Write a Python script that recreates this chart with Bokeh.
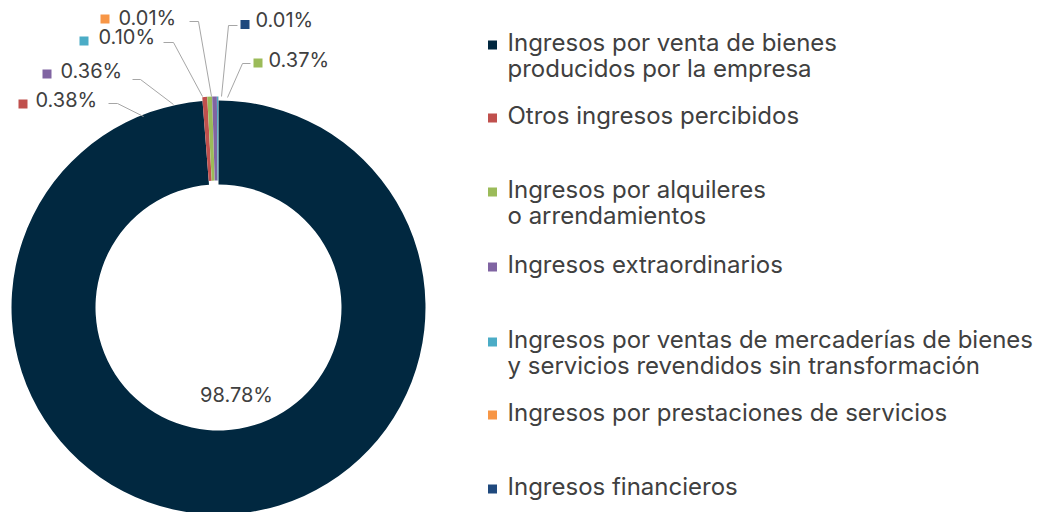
import numpy as np
from bokeh.plotting import figure
from bokeh.models import Range1d, ColumnDataSource
from bokeh.core.properties import value
from bokeh.embed import file_html
from bokeh.resources import INLINE

# ---------------- data ----------------
categories = [
    "Ingresos por venta de bienes\nproducidos por la empresa",
    "Otros ingresos percibidos",
    "Ingresos por alquileres\no arrendamientos",
    "Ingresos extraordinarios",
    "Ingresos por ventas de mercaderías de bienes\ny servicios revendidos sin transformación",
    "Ingresos por prestaciones de servicios",
    "Ingresos financieros",
]
shares = [98.78, 0.38, 0.37, 0.36, 0.10, 0.01, 0.01]
colors = ["#012840", "#C0504D", "#9BBB59", "#8064A2", "#4BACC6", "#F79646", "#1F497D"]
pct_labels = [f"{v:.2f}%" for v in shares]

# ---------------- layout (picture pixel coordinates) ----------------
W, H = 1044, 512
FONT = "Inter"
TXT = "#404040"
CX, CY = 218, 307
R_OUT, R_IN = 207, 123
EXPLODE = 4
TXT_DY = -7.5  # baseline correction for text rendering

# percentage labels: marker centre, text x, text baseline
lbl_marker = [None, (22.5, 103.5), (257.5, 62.5), (46.5, 73.5), (83.5, 40.5), (104.5, 18.5), (244.5, 24)]
lbl_text = [(236, 402), (35, 107), (268, 67), (60, 78), (98, 44), (118, 25), (255, 27)]
leaders = [None,
           [(108, 103), (117, 103), (143, 116)],
           [(250, 63), (242, 63), (227, 97)],
           [(132, 79), (140, 79), (173, 104)],
           [(163, 42), (173, 42), (202, 96)],
           [(189, 21), (198, 21), (211, 96)],
           [(237, 25), (228, 25), (221, 96)]]

leg_marker_x = 492
leg_text_x = 507
leg_baselines = [49, 122, 196, 271, 346, 419, 493]
leg_line_gap = 26.5


def Y(yw):
    return H - yw


p = figure(width=W, height=H, output_backend="svg", toolbar_location=None,
           x_range=Range1d(0, W), y_range=Range1d(0, H),
           min_border=0, match_aspect=False)
p.axis.visible = False
p.grid.visible = False
p.outline_line_color = None
p.background_fill_color = "white"

# ---------------- donut ----------------
total = sum(shares)
cum = np.concatenate([[0], np.cumsum(shares)]) / total
starts = np.pi / 2 - 2 * np.pi * cum[:-1]
ends = np.pi / 2 - 2 * np.pi * cum[1:]
mids = (starts + ends) / 2
offs = [0] + [EXPLODE] * (len(shares) - 1)
xs = [CX + o * np.cos(m) for o, m in zip(offs, mids)]
ys = [Y(CY) + o * np.sin(m) for o, m in zip(offs, mids)]
src = ColumnDataSource(dict(x=xs, y=ys, s=starts, e=ends, c=colors))
p.annular_wedge(x="x", y="y", inner_radius=R_IN, outer_radius=R_OUT,
                start_angle="s", end_angle="e", direction="clock",
                fill_color="c", line_color=None, source=src)

# ---------------- leader lines ----------------
for pts in leaders:
    if pts is None:
        continue
    p.line([q[0] for q in pts], [Y(q[1]) for q in pts], line_color="#A6A6A6", line_width=1)

# ---------------- percentage labels ----------------
for i, lab in enumerate(pct_labels):
    tx, ty = lbl_text[i]
    if lbl_marker[i] is not None:
        mx, my = lbl_marker[i]
        p.rect([mx], [Y(my)], width=9, height=9, fill_color=colors[i], line_color=None)
        align = "left"
    else:
        align = "center"
    p.text([tx], [Y(ty + TXT_DY)], text=[lab], text_font=value(FONT), text_font_size="20px",
           text_color=TXT, text_align=align, text_baseline="alphabetic")

# ---------------- legend ----------------
for i, cat in enumerate(categories):
    b = leg_baselines[i]
    p.rect([leg_marker_x], [Y(b - 4.5)], width=9, height=9, fill_color=colors[i], line_color=None)
    for k, line in enumerate(cat.split("\n")):
        p.text([leg_text_x], [Y(b + k * leg_line_gap + TXT_DY)], text=[line], text_font=value(FONT),
               text_font_size="24px", text_color=TXT, text_align="left", text_baseline="alphabetic")

open("out.html", "w").write(file_html(p, INLINE))
